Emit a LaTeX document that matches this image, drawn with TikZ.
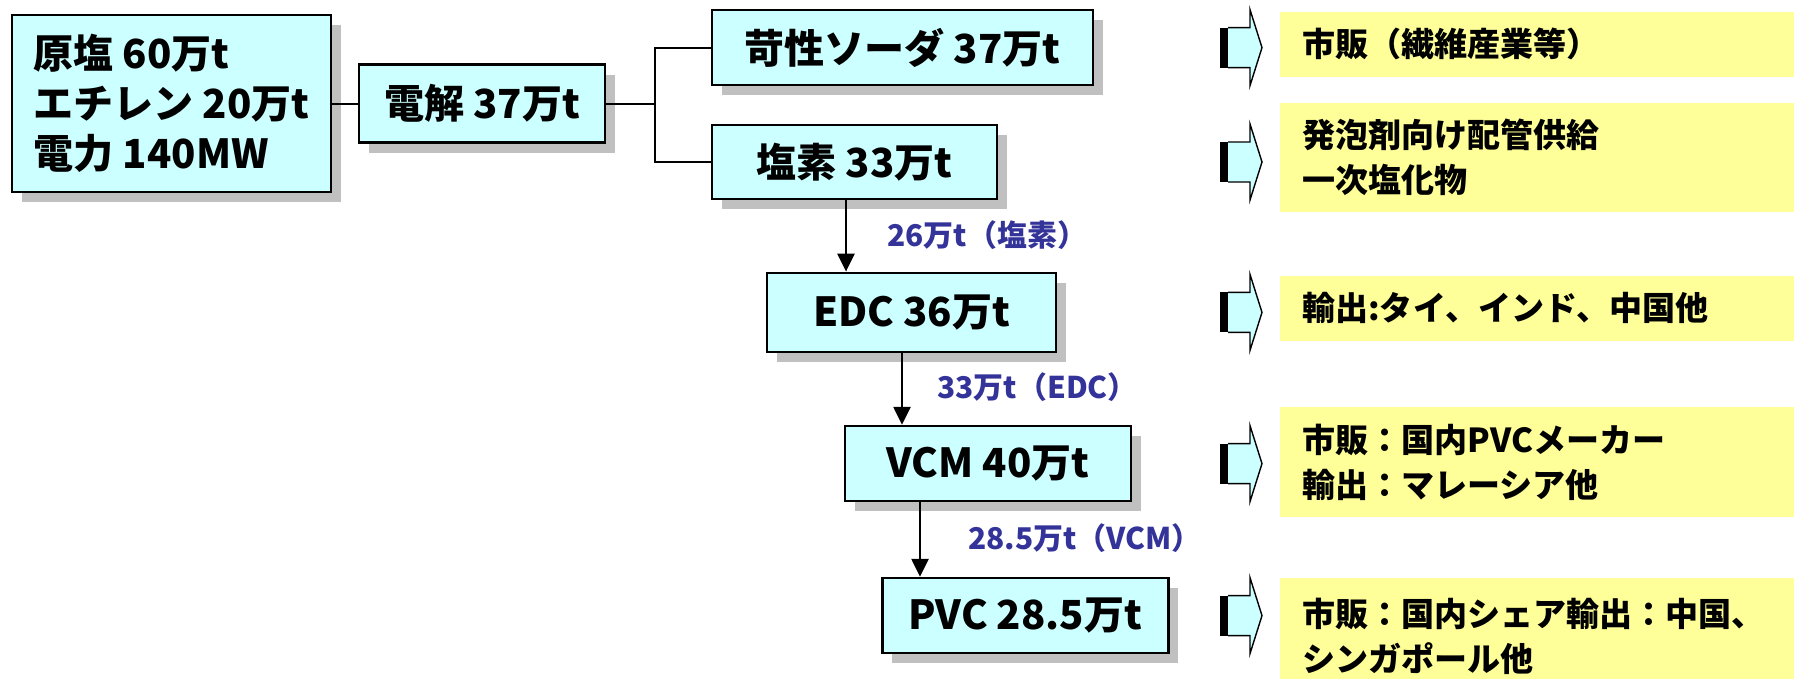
\documentclass[tikz,border=0pt]{standalone}
\usepackage{fontspec}
\setmainfont{Noto Sans CJK JP}
\usetikzlibrary{arrows.meta, shadows}
\definecolor{boxfill}{HTML}{CCFFFF}
\definecolor{notefill}{HTML}{FFFF99}
\definecolor{shadowgray}{HTML}{C0C0C0}
\definecolor{flowblue}{HTML}{333399}

\begin{document}
\begin{tikzpicture}[
    procbox/.style={
        draw=black, line width=1.9pt, fill=boxfill, inner sep=0pt,
        font=\fontsize{28.5}{35.6}\selectfont\bfseries,
        drop shadow={shadow xshift=0.25cm, shadow yshift=-0.25cm, fill=shadowgray, opacity=1},
    },
    notebox/.style={
        fill=notefill, anchor=west, align=left, inner xsep=0.55cm, inner ysep=0pt,
        text width=11.75cm, minimum width=12.85cm,
        font=\fontsize{23.5}{32}\selectfont\bfseries,
    },
    flowlabel/.style={
        flowblue, anchor=west, inner sep=0pt,
        font=\fontsize{21.3}{26}\selectfont\bfseries,
    },
    link/.style={line width=1.4pt},
    flow/.style={
        line width=1.4pt,
        -{Triangle[length=0.45cm, width=0.43cm]},
    },
    outarrow/.pic={
        \fill[black] (0,-0.5) rectangle (0.2,0.5);
        \draw[line width=1pt, fill=boxfill, line join=miter]
            (0.2,-0.5) -- (0.75,-0.5) -- (0.75,-0.95) -- (1.05,0)
            -- (0.75,0.95) -- (0.75,0.5) -- (0.2,0.5);
    },
]
\useasboundingbox (0,0) rectangle (44.85,-16.975);

% =============================================
% RAW MATERIALS and ELECTROLYSIS (left side)
% =============================================
\node[procbox, minimum width=7.975cm, minimum height=4.425cm, align=left] (src) at (4.29,-2.59)
    {原塩 60万t\\エチレン 20万t\\電力 140MW};
\node[procbox, minimum width=6.15cm, minimum height=1.95cm] (elec) at (12.05,-2.59) {電解 37万t};

% =============================================
% PRODUCT CHAIN (middle column)
% =============================================
\node[procbox, minimum width=9.525cm, minimum height=1.875cm] (soda) at (22.56,-1.19) {苛性ソーダ 37万t};
\node[procbox, minimum width=7.125cm, minimum height=1.85cm] (chlorine) at (21.36,-4.05) {塩素 33万t};
\node[procbox, minimum width=7.225cm, minimum height=1.975cm] (edc) at (22.79,-7.81) {EDC 36万t};
\node[procbox, minimum width=7.15cm, minimum height=1.875cm] (vcm) at (24.70,-11.59) {VCM 40万t};
\node[procbox, minimum width=7.15cm, minimum height=1.875cm] (pvc) at (25.63,-15.39) {PVC 28.5万t};

% Fork after electrolysis
\coordinate (fork) at (16.375,-2.59);
\draw[link] (src.east) -- (elec.west);
\draw[link] (elec.east) -- (fork);
\draw[link] (soda.west) -| (fork) |- (chlorine.west);

% Downward flows
\coordinate (clout) at ([xshift=-0.21cm]chlorine.south);
\draw[flow] (clout) -- (clout |- edc.north);
\coordinate (edcout) at ([xshift=-0.24cm]edc.south);
\draw[flow] (edcout) -- (edcout |- vcm.north);
\coordinate (vcmout) at ([xshift=-1.7cm]vcm.south);
\draw[flow] (vcmout) -- (vcmout |- pvc.north);

% Flow labels
\node[flowlabel] (cllabel) at (22.18,-5.88) {26万t（塩素）};
\node[flowlabel] (edclabel) at (23.43,-9.68) {33万t（EDC）};
\node[flowlabel] (vcmlabel) at (24.20,-13.45) {28.5万t（VCM）};

% =============================================
% OUTLETS (right side)
% =============================================
\coordinate (arrowx) at (30.5,0);
\foreach \b in {soda,chlorine,edc,vcm,pvc}
  \pic at (\b.east -| arrowx) {outarrow};

\node[notebox, minimum height=1.625cm] (sodanote) at (32,-1.11) {市販（繊維産業等）};
\node[notebox, minimum height=2.725cm] (clnote) at (32,-3.94) {発泡剤向け配管供給\\一次塩化物};
\node[notebox, minimum height=1.625cm] (edcnote) at (32,-7.71) {輸出:タイ、インド、中国他};
\node[notebox, minimum height=2.75cm] (vcmnote) at (32,-11.55) {市販：国内PVCメーカー\\輸出：マレーシア他};
\node[notebox, minimum height=2.9cm] (pvcnote) at (32,-15.9) {市販：国内シェア輸出：中国、\\シンガポール他};

\end{tikzpicture}
\end{document}
